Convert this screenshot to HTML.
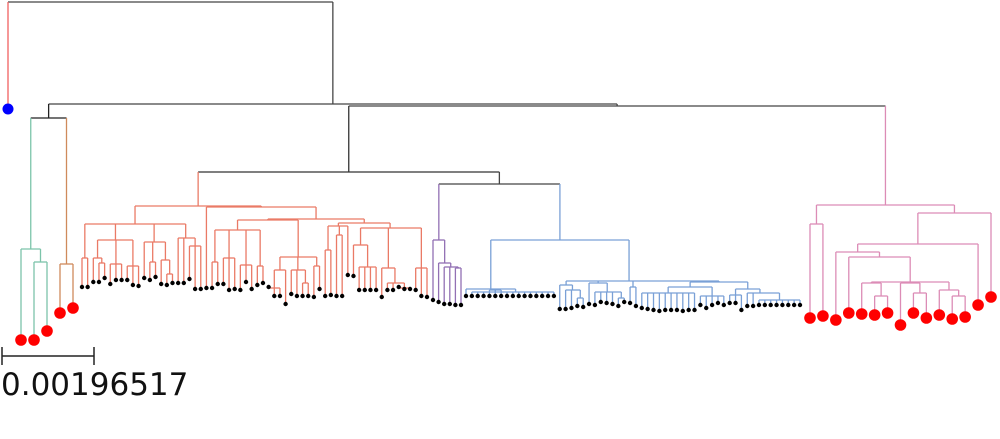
<!DOCTYPE html>
<html><head><meta charset="utf-8"><style>
html,body{margin:0;padding:0;background:#fff;width:1000px;height:439px;overflow:hidden}
svg{display:block}
text{font-family:"DejaVu Sans","Liberation Sans",sans-serif}
</style></head><body>
<svg id="tree" width="1000" height="439" viewBox="0 0 1000 439">
<g id="edges"></g>
<g id="dots"></g>
<g>
<line x1="2" y1="356" x2="94" y2="356" stroke="#222" stroke-width="1.5"/>
<line x1="2" y1="347" x2="2" y2="365" stroke="#222" stroke-width="1.5"/>
<line x1="94" y1="347" x2="94" y2="365" stroke="#222" stroke-width="1.5"/>
<text x="1" y="395" font-size="31" fill="#111">0.00196517</text>
</g>
</svg>
<script>
// Clade data: internal node = {h: join height, c: children}, leaf = tip height
const tealClade = {h:249,c:[340,{h:262,c:[340,331]}]};
const orangeClade = {h:264,c:[313,308]};
const redClade = {h:206,c:[
 {h:224,c:[
  {h:258,c:[287,287]},
  {h:240,c:[{h:258,c:[282,{h:263,c:[282,278]}]},{h:264,c:[284,280,280]},{h:266,c:[280,285,286]}]},
  {h:242,c:[278,{h:262,c:[280,277]},{h:260,c:[284,{h:274,c:[285,283]}]}]},
  {h:238,c:[283,283,{h:246,c:[279,289,289]}]}
 ]},
 {h:207,c:[
  288,
  {h:219,c:[
   {h:220,c:[
    {h:230,c:[{h:262,c:[288,284]},{h:258,c:[284,290,289]},{h:265,c:[290,282,289]},{h:266,c:[285,283]}]},
    {h:257,c:[{h:270,c:[{h:288,c:[287,296,296]},304]},{h:270,c:[294,296,{h:283,c:[296,296]}]},{h:266,c:[297,289]}]}
   ]},
   {h:223,c:[
    {h:226,c:[{h:250,c:[296,295]},{h:235,c:[296,296]},275]},
    {h:228,c:[
     {h:245,c:[276,{h:267,c:[290,290,290,290]}]},
     {h:268,c:[297,{h:283,c:[290,290,{h:288,c:[287,289,289]}]}]},
     {h:268,c:[290,296,297]}
    ]}
   ]}
  ]}
 ]}
]};
const purpleClade = {h:240,c:[300,{h:263,c:[302,{h:267,c:[304,304,{h:268,c:[305,305]}]}]}]};
const blueClade = {h:240,c:[
 {h:289,c:[296,{h:292,c:[296,296,296,{h:290,c:[296,296,296]},296,296,296,296,296,296,296,296,296]}]},
 {h:281,c:[
  {h:285,c:[309,{h:290,c:[309,308,{h:298,c:[306,307]}]}]},
  {h:283,c:[304,{h:292,c:[305,302,303,304,{h:298,c:[306,302]}]}]},
  {h:287,c:[303,306]},
  {h:282,c:[
   {h:287,c:[{h:293,c:[308,309,310,311,310,310,310,311,310,310]},{h:296,c:[305,308,305,303,305]}]},
   {h:289,c:[{h:295,c:[303,303,310]},{h:293,c:[306,306,{h:300,c:[305,305,305,305,305,305,305,305]}]}]}
  ]}
 ]}
]};
const pinkClade = {h:205,c:[
 {h:224,c:[318,316]},
 {h:213,c:[
  {h:244,c:[
   {h:252,c:[320,{h:257,c:[313,{h:282,c:[{h:283,c:[314,{h:296,c:[315,313]}]},{h:283,c:[325,{h:293,c:[313,318]}]},{h:290,c:[315,{h:296,c:[319,317]}]}]}]}]},
   305
  ]},
  297
 ]}
]};
const outgroupLeaf = 109;

// layout config
const clades = [
 {t:tealClade, col:'#7cc4aa', range:[21,47], big:true},
 {t:orangeClade, col:'#cf8a5c', range:[60,73], big:true},
 {t:redClade, col:'#ea7a66', range:[82,427], big:false},
 {t:purpleClade, col:'#9270b4', range:[433,461], big:false},
 {t:blueClade, col:'#7aa0d6', range:[466,800], big:false},
 {t:pinkClade, col:'#dc8cb6', range:[810,991], big:true}
];
function norm(n,col,big){
  if(typeof n==='number') return {leaf:true,y:n,col,big};
  return {h:n.h,col,c:n.c.map(k=>norm(k,col,big))};
}
function leaves(n,out){ if(n.leaf) out.push(n); else n.c.forEach(k=>leaves(k,out)); return out; }
function setX(n){ if(n.leaf) return n.x; const xs=n.c.map(setX); n.x=xs.reduce((a,b)=>a+b,0)/xs.length; return n.x; }
const built = clades.map(cl=>{
  const r = norm(cl.t,cl.col,cl.big);
  const lv = leaves(r,[]);
  lv.forEach((l,i)=>{ l.x = cl.range[0] + (cl.range[1]-cl.range[0])*(lv.length>1? i/(lv.length-1):0); });
  setX(r); return r;
});
const K='#444';
const out = {leaf:true,y:outgroupLeaf,col:'#f06060',x:8,root:true};
const root = {h:2,col:K,c:[out,{h:104,col:K,c:[{h:118,col:'#222',c:[built[0],built[1]]},{h:106,col:K,c:[{h:172,col:'#333',c:[built[2],{h:184,col:'#444',c:[built[3],built[4]]}]},built[5]]}]}]};
setX(root);

const NS='http://www.w3.org/2000/svg';
const eg=document.getElementById('edges'), dg=document.getElementById('dots');
function line(x1,y1,x2,y2,c){
  const l=document.createElementNS(NS,'line');
  l.setAttribute('x1',x1);l.setAttribute('y1',y1);l.setAttribute('x2',x2);l.setAttribute('y2',y2);
  l.setAttribute('stroke',c);l.setAttribute('stroke-width','1.3');
  
  
  eg.appendChild(l);
}
const tips=[];
function draw(n){
  if(n.leaf){ tips.push(n); return; }
  const xs=n.c.map(k=>k.x);
  line(Math.min(...xs),n.h,Math.max(...xs),n.h,n.col);
  n.c.forEach(k=>{ line(k.x,n.h,k.x,k.leaf?k.y:k.h,k.col); draw(k); });
}
draw(root);
tips.forEach(t=>{
  const c=document.createElementNS(NS,'circle');
  c.setAttribute('cx',t.x);c.setAttribute('cy',t.y);
  c.setAttribute('r',t.root?5.5:(t.big?5.8:2.2));
  c.setAttribute('fill',t.root?'#0000ff':(t.big?'#ff0000':'#000'));
  
  
  dg.appendChild(c);
});
</script>
</body></html>
